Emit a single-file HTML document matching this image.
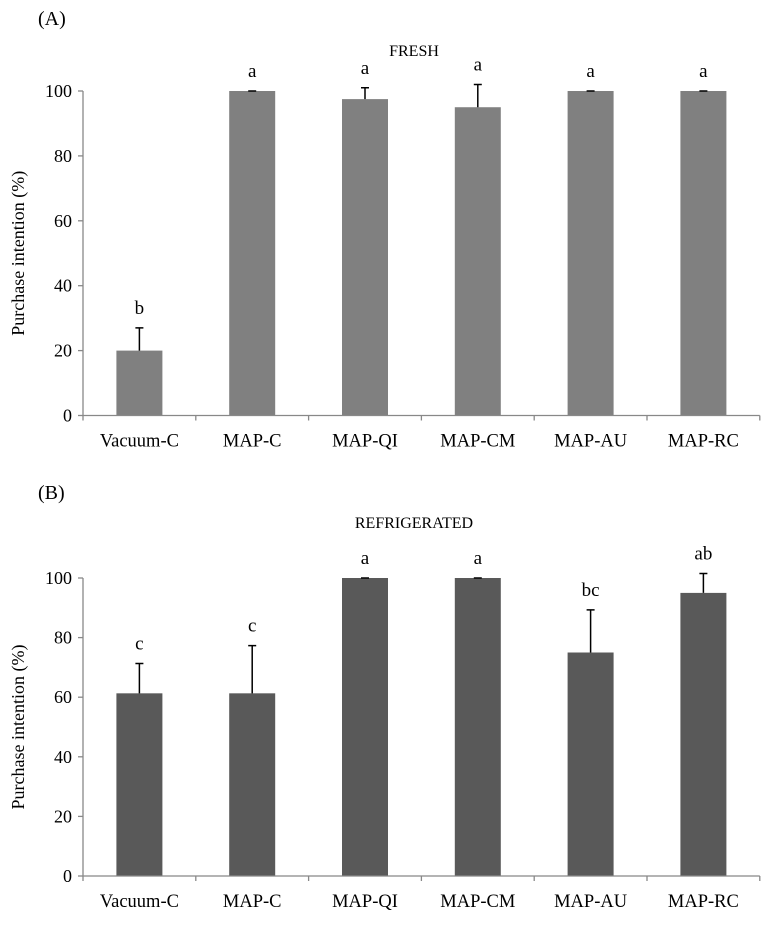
<!DOCTYPE html>
<html><head><meta charset="utf-8">
<style>
body{margin:0;background:#fff;}
svg text{font-family:"Liberation Serif",serif;fill:#000;}
</style></head>
<body>
<svg id="c" width="766" height="945" xmlns="http://www.w3.org/2000/svg"></svg>
<script>
const categories=["Vacuum-C","MAP-C","MAP-QI","MAP-CM","MAP-AU","MAP-RC"];
const freshValues=[20,100,97.5,95,100,100];
const freshErrors=[7,0,3.5,7,0,0];
const freshLetters=["b","a","a","a","a","a"];
const refrigValues=[61.3,61.3,100,100,75,95];
const refrigErrors=[10,16,0,0,14.3,6.5];
const refrigLetters=["c","c","a","a","bc","ab"];
const yTicks=[0,20,40,60,80,100];

const svg=document.getElementById('c');
const NS="http://www.w3.org/2000/svg";
function mk(tag,attrs,parent){const e=document.createElementNS(NS,tag);for(const k in attrs)e.setAttribute(k,attrs[k]);(parent||svg).appendChild(e);return e;}

function panel(cfg){
  const g=mk('g',{});
  
  
  const x0=83,step=112.8,bw=46;
  const y=v=>cfg.y0-(v/100)*(cfg.y0-cfg.y100);
  const xc=i=>x0+step*(i+0.5);
  let t=mk('text',{x:cfg.lx,y:cfg.ly,'font-size':20},g);t.textContent=cfg.label;
  
  t=mk('text',{x:414,y:cfg.ty,'font-size':16,'text-anchor':'middle'},g);t.textContent=cfg.title;
  
  const cy=(cfg.y0+cfg.y100)/2;
  t=mk('text',{x:0,y:0,'font-size':18,'text-anchor':'middle',transform:`translate(24,${cy}) rotate(-90)`},g);
  t.textContent="Purchase intention (%)";
  
  cfg.values.forEach((v,i)=>{
    const r=mk('rect',{x:xc(i)-bw/2,y:y(v),width:bw,height:y(0)-y(v),fill:cfg.color},g);
    
    
    const top=y(v+cfg.errors[i]);
    const l=mk('path',{d:`M${xc(i)},${y(v)}V${top}M${xc(i)-4},${top}H${xc(i)+4}`,stroke:'#000','stroke-width':1.5,fill:'none'},g);
    
    
    const lt=mk('text',{x:xc(i),y:top-14,'font-size':19,'text-anchor':'middle'},g);
    lt.textContent=cfg.letters[i];
    
    
    const cl=mk('text',{x:xc(i),y:cfg.y0+31,'font-size':18.5,'text-anchor':'middle'},g);
    cl.textContent=categories[i];
    
    
  });
  const ax=mk('path',{d:`M${x0},${y(100)}V${y(0)}H${x0+step*6}`,stroke:'#888','stroke-width':1.3,fill:'none'},g);
  
  
  for(let i=0;i<=6;i++){mk('path',{d:`M${x0+step*i},${y(0)}v5`,stroke:'#888','stroke-width':1.3},g);}
  yTicks.forEach(v=>{
    mk('path',{d:`M${x0-5},${y(v)}H${x0}`,stroke:'#888','stroke-width':1.3},g);
    const tt=mk('text',{x:x0-11,y:y(v)+6,'font-size':18,'text-anchor':'end'},g);
    tt.textContent=v;
    
    
  });
}
panel({name:'fresh-panel',label:'(A)',lx:38,ly:25,title:'FRESH',ty:56,y0:415.5,y100:91,values:freshValues,errors:freshErrors,letters:freshLetters,color:'#808080'});
panel({name:'refrigerated-panel',label:'(B)',lx:38,ly:499,title:'REFRIGERATED',ty:528,y0:876,y100:578,values:refrigValues,errors:refrigErrors,letters:refrigLetters,color:'#595959'});
</script>
</body></html>
